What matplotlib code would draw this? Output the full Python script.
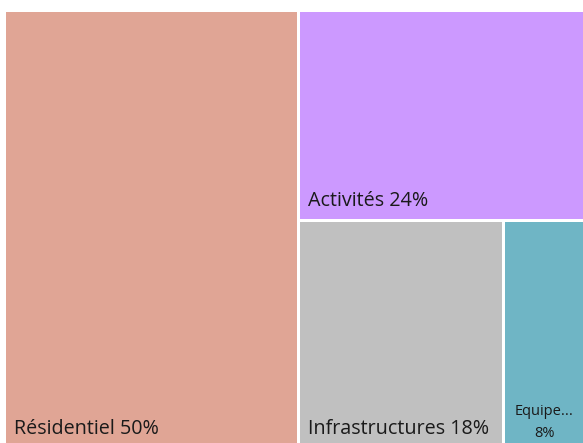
import matplotlib.pyplot as plt
from matplotlib.patches import Rectangle

# treemap data
labels = ["Résidentiel", "Activités", "Infrastructures", "Equipe..."]
values = [50.4, 23.6, 18.6, 7.4]
pct_labels = ["50%", "24%", "18%", "8%"]
colors = ["#E0A595", "#CC99FF", "#C0C0C0", "#6FB5C5"]

W, H = 583, 443
x0, y0 = 6, 12
gap = 3.5

fig = plt.figure(figsize=(W / 100, H / 100), dpi=100)
ax = fig.add_axes([0, 0, 1, 1])
ax.set_xlim(0, W)
ax.set_ylim(H, 0)
ax.axis("off")

total = sum(values)
# plot area runs slightly past the bottom edge
tw, th = W - x0, H + 4 - y0

# left column: first item full height
w0 = tw * values[0] / total
rects = [(x0, y0, w0, th)]
# right part: second item on top, rest in a row below
rest = total - values[0]
rx, rw = x0 + w0, tw - w0
h1 = th * values[1] / rest
rects.append((rx, y0, rw, h1))
bottom = values[2] + values[3]
w2 = rw * values[2] / bottom
rects.append((rx, y0 + h1, w2, th - h1))
rects.append((rx + w2, y0 + h1, rw - w2, th - h1))

font = ["Open Sans", "DejaVu Sans"]
tc = "#1A1A1A"
for i, (x, y, w, h) in enumerate(rects):
    xs = x + (gap if i > 0 else 0)
    ys = y + (gap if i in (2, 3) else 0)
    ws = w - (gap if i > 0 else 0)
    hs = h - (gap if i in (2, 3) else 0)
    ax.add_patch(Rectangle((xs, ys), ws, hs, facecolor=colors[i], edgecolor="none"))
    if i < 3:
        ax.text(xs + 8, ys + hs - 13, f"{labels[i]} {pct_labels[i]}", fontsize=14.2,
                family=font, color=tc, ha="left", va="baseline")
    else:
        cx = xs + ws / 2
        ax.text(cx, ys + hs - 32, labels[i], fontsize=10.5,
                family=font, color=tc, ha="center", va="baseline")
        ax.text(cx, ys + hs - 10, pct_labels[i], fontsize=10.5,
                family=font, color=tc, ha="center", va="baseline")

fig.savefig("out.png", dpi=100)
